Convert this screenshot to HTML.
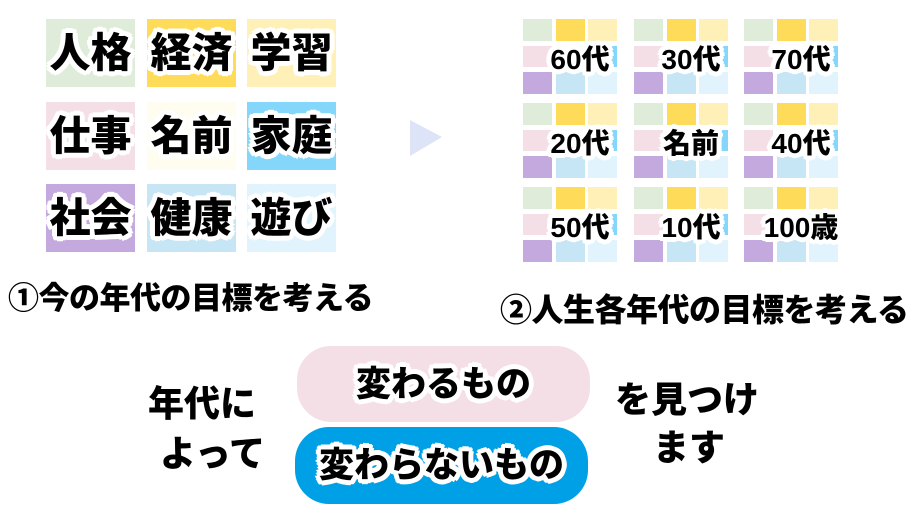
<!DOCTYPE html>
<html><head><meta charset="utf-8"><style>
body{margin:0;width:909px;height:511px;background:#fff;position:relative;overflow:hidden;font-family:"Liberation Sans","Noto Sans CJK JP",sans-serif;font-weight:bold}
.a{position:absolute}
.t{position:absolute;white-space:nowrap;color:#000;line-height:1;font-weight:900;
text-shadow:0 0 0 #fff,3px 0 #fff,-3px 0 #fff,0 3px #fff,0 -3px #fff,2px 2px #fff,-2px 2px #fff,2px -2px #fff,-2px -2px #fff,5px 0 #fff,-5px 0 #fff,0 5px #fff,0 -5px #fff,4px 3px #fff,-4px 3px #fff,4px -3px #fff,-4px -3px #fff,3px 4px #fff,-3px 4px #fff,3px -4px #fff,-3px -4px #fff}
.p{position:absolute;white-space:nowrap;color:#000;line-height:1;font-weight:900}
.c{display:flex;align-items:center;justify-content:center}
</style></head><body>
<div class="a" style="left:46px;top:19px;width:89px;height:68px;background:#dfecd9"></div>
<div class="a" style="left:147px;top:19px;width:89px;height:68px;background:#ffdb5a"></div>
<div class="a" style="left:247px;top:19px;width:89px;height:68px;background:#fff0b8"></div>
<div class="a" style="left:46px;top:102px;width:89px;height:68px;background:#f4dfe6"></div>
<div class="a" style="left:147px;top:102px;width:89px;height:68px;background:#fffdf0"></div>
<div class="a" style="left:247px;top:102px;width:89px;height:68px;background:#84d7fb"></div>
<div class="a" style="left:46px;top:184px;width:89px;height:68px;background:#c3a9dd"></div>
<div class="a" style="left:147px;top:184px;width:89px;height:68px;background:#c6e6f5"></div>
<div class="a" style="left:247px;top:184px;width:89px;height:68px;background:#e1f4fd"></div>
<div class="t c" style="left:40px;top:19px;width:101px;height:68px;font-size:41px">人格</div>
<div class="t c" style="left:141px;top:19px;width:101px;height:68px;font-size:41px">経済</div>
<div class="t c" style="left:241px;top:19px;width:101px;height:68px;font-size:41px">学習</div>
<div class="t c" style="left:40px;top:102px;width:101px;height:68px;font-size:41px">仕事</div>
<div class="t c" style="left:141px;top:102px;width:101px;height:68px;font-size:41px">名前</div>
<div class="t c" style="left:241px;top:102px;width:101px;height:68px;font-size:41px">家庭</div>
<div class="t c" style="left:40px;top:184px;width:101px;height:68px;font-size:41px">社会</div>
<div class="t c" style="left:141px;top:184px;width:101px;height:68px;font-size:41px">健康</div>
<div class="t c" style="left:241px;top:184px;width:101px;height:68px;font-size:41px">遊び</div>
<svg class="a" style="left:408px;top:118px" width="36" height="40"><polygon points="2,2 34,19 2,38" fill="#dde4f7"/></svg>
<div id="g"></div>
<script>
var labels=["60代","30代","70代","20代","名前","40代","50代","10代","100歳"];
var gx=[523,634,744],gy=[19,103,187];
var cols=["#dfecd9","#ffdb5a","#fff0b8","#f4dfe6","#fffdf0","#84d7fb","#c3a9dd","#c6e6f5","#e1f4fd"];
var h="";
for(var r=0;r<3;r++)for(var c=0;c<3;c++){
 var x0=gx[c],y0=gy[r];
 var cx=[0,33,65],cy=[0,27,53],ch=[22,21,22];
 for(var i=0;i<3;i++)for(var j=0;j<3;j++){
  h+='<div class="a" style="left:'+(x0+cx[j])+'px;top:'+(y0+cy[i])+'px;width:29px;height:'+ch[i]+'px;background:'+cols[i*3+j]+'"></div>';
 }
 h+='<div class="t c" style="left:'+(x0+9)+'px;top:'+(y0+24)+'px;width:96px;height:34px;font-size:28px">'+labels[r*3+c]+'</div>';
}
document.getElementById("g").innerHTML=h;
</script>
<div class="p" style="left:8px;top:283px;font-size:31px;letter-spacing:-0.5px">①今の年代の目標を考える</div>
<div class="p" style="left:500px;top:294px;font-size:32px;letter-spacing:-0.5px">②人生各年代の目標を考える</div>
<div class="a" style="left:297px;top:346px;width:293px;height:76px;border-radius:34px;background:#f4dfe6"></div>
<div class="a" style="left:295px;top:427px;width:293px;height:77px;border-radius:34px;background:#00a0e6"></div>
<div class="t c" style="left:297px;top:364px;width:293px;height:40px;font-size:35px">変わるもの</div>
<div class="t c" style="left:295px;top:445px;width:293px;height:40px;font-size:35px">変わらないもの</div>
<div class="p" style="left:148px;top:386px;font-size:36px">年代に</div>
<div class="p" style="left:160px;top:436px;font-size:36px">よって</div>
<div class="p" style="left:615px;top:382px;font-size:36px">を見つけ</div>
<div class="p" style="left:653px;top:430px;font-size:36px">ます</div>
</body></html>
